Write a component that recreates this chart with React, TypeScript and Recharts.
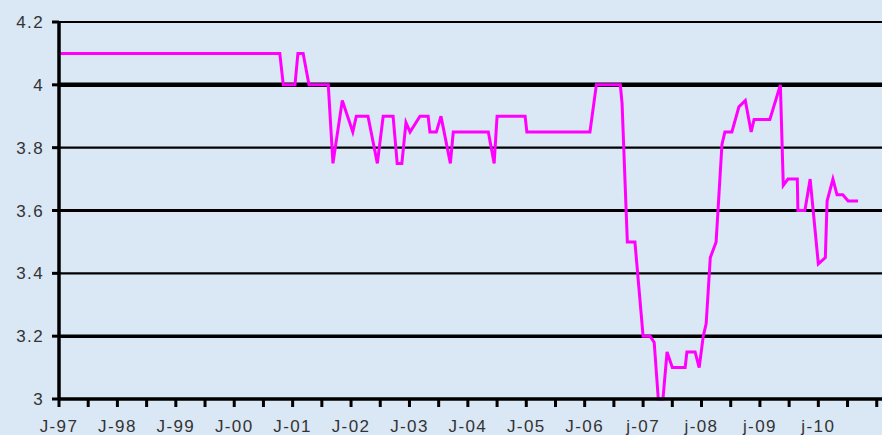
import { LineChart, Line, XAxis, YAxis, CartesianGrid } from 'recharts';

// rate breakpoints (decimal year, value)
const dates = [
  1997.0, 2000.78, 2000.84, 2001.04, 2001.09, 2001.18, 2001.28, 2001.61, 2001.69, 2001.85,
  2002.03, 2002.09, 2002.29, 2002.45, 2002.55, 2002.72, 2002.79, 2002.87, 2002.94, 2003.01,
  2003.18, 2003.32, 2003.35, 2003.46, 2003.54, 2003.7, 2003.75, 2004.35, 2004.45, 2004.5,
  2004.98, 2005.01, 2006.09, 2006.2, 2006.61, 2006.64, 2006.73, 2006.86, 2007.0, 2007.12,
  2007.19, 2007.26, 2007.34, 2007.41, 2007.5, 2007.72, 2007.75, 2007.89, 2007.96, 2008.03,
  2008.08, 2008.15, 2008.25, 2008.35, 2008.4, 2008.52, 2008.64, 2008.75, 2008.85, 2008.9,
  2009.17, 2009.35, 2009.4, 2009.48, 2009.64, 2009.65, 2009.77, 2009.86, 2010.0, 2010.12,
  2010.15, 2010.25, 2010.32, 2010.42, 2010.51, 2010.68,
];
const rates = [
  4.1, 4.1, 4.0, 4.0, 4.1, 4.1, 4.0, 4.0, 3.75, 3.95,
  3.85, 3.9, 3.9, 3.75, 3.9, 3.9, 3.75, 3.75, 3.88, 3.85,
  3.9, 3.9, 3.85, 3.85, 3.9, 3.75, 3.85, 3.85, 3.75, 3.9,
  3.9, 3.85, 3.85, 4.0, 4.0, 3.94, 3.5, 3.5, 3.2, 3.2,
  3.18, 3.0, 3.0, 3.15, 3.1, 3.1, 3.15, 3.15, 3.1, 3.2,
  3.24, 3.45, 3.5, 3.81, 3.85, 3.85, 3.93, 3.95, 3.85, 3.89,
  3.89, 4.0, 3.68, 3.7, 3.7, 3.6, 3.6, 3.7, 3.43, 3.45,
  3.63, 3.7, 3.65, 3.65, 3.63, 3.63,
];

const xTicks = [
  1997, 1997.5, 1998, 1998.5, 1999, 1999.5, 2000, 2000.5, 2001, 2001.5, 2002, 2002.5,
  2003, 2003.5, 2004, 2004.5, 2005, 2005.5, 2006, 2006.5, 2007, 2007.5, 2008, 2008.5,
  2009, 2009.5, 2010, 2010.5, 2011,
];
const yearLabels = ['J-97', 'J-98', 'J-99', 'J-00', 'J-01', 'J-02', 'J-03', 'J-04', 'J-05', 'J-06', 'j-07', 'j-08', 'j-09', 'j-10'];
const yTicks = [3, 3.2, 3.4, 3.6, 3.8, 4, 4.2];
const yLabels = ['3', '3.2', '3.4', '3.6', '3.8', '4', '4.2'];

const data = dates.map((t, i) => ({ t, v: rates[i] }));

// grid line widths, bottom to top (the scan makes some look heavier)
const gridWidths = [0, 3.5, 2.2, 3.2, 2.2, 4.5, 2.2];

const tickFont = { fill: '#333', fontSize: 17, fontFamily: 'Liberation Sans, Arial, sans-serif', letterSpacing: 1.4 };

const GridLine = (props: any) => {
  const w = gridWidths[props.index] ?? 2;
  if (!w) return <g />;
  return <line x1={props.x1} x2={props.x2} y1={props.y1} y2={props.y2} stroke="#000" strokeWidth={w} />;
};

export default function App() {
  return (
    <div style={{ position: 'absolute', left: 0, top: 0, width: 882, height: 435, background: '#dae7f5' }}>
      <LineChart width={882} height={435} data={data} margin={{ top: 22, right: 0, bottom: 0, left: 0 }}>
        <CartesianGrid vertical={false} horizontal={GridLine} />
        <XAxis
          dataKey="t"
          type="number"
          domain={[1997, 2011.09]}
          allowDataOverflow
          ticks={xTicks}
          interval={0}
          height={36}
          tickSize={8}
          tickMargin={13}
          axisLine={{ stroke: '#000', strokeWidth: 3.5 }}
          tickLine={{ stroke: '#000', strokeWidth: 3 }}
          tick={tickFont}
          tickFormatter={(v: number) => (Number.isInteger(v) ? yearLabels[v - 1997] ?? '' : '')}
        />
        <YAxis
          type="number"
          domain={[3, 4.2]}
          ticks={yTicks}
          interval={0}
          width={59}
          tickSize={7}
          tickMargin={8}
          axisLine={{ stroke: '#000', strokeWidth: 3.5 }}
          tickLine={{ stroke: '#000', strokeWidth: 3 }}
          tick={tickFont}
          tickFormatter={(v: number) => yLabels[yTicks.findIndex((y) => Math.abs(y - v) < 1e-6)] ?? ''}
        />
        <Line
          type="linear"
          dataKey="v"
          stroke="#ff00ff"
          strokeWidth={3}
          dot={false}
          isAnimationActive={false}
        />
      </LineChart>
    </div>
  );
}
